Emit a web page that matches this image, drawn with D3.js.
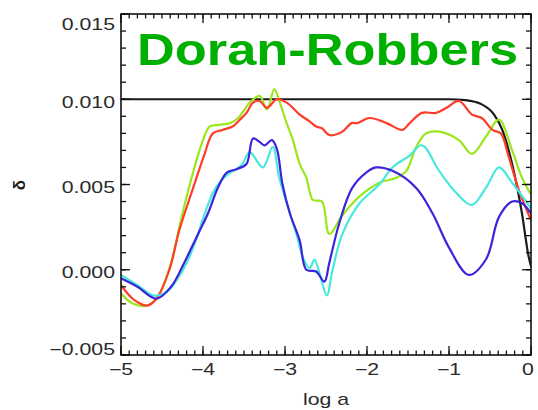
<!DOCTYPE html>
<html><head><meta charset="utf-8">
<script src="https://cdn.jsdelivr.net/npm/d3@7"></script>
<style>html,body{margin:0;padding:0;background:#fff;}svg{display:block;}</style>
</head><body>
<svg id="c" width="538" height="410"></svg>
<script>
// ---- data ----
const title = "Doran-Robbers";
const xLabel = "log a";
const yLabel = "δ";
const xTicks = [-5, -4, -3, -2, -1, 0];
const yTicks = [-0.005, 0.000, 0.005, 0.010, 0.015];
const yTickLabels = ["\u22120.005", "0.000", "0.005", "0.010", "0.015"];
const xTickLabels = ["\u22125", "\u22124", "\u22123", "\u22122", "\u22121", "0"];

const blackX = [-5, -1.0, -0.8, -0.6, -0.45, -0.35, -0.23, -0.11, -0.03, 0];
const blackY = [0.0100, 0.0100, 0.00995, 0.0097, 0.0091, 0.0082, 0.0062, 0.0033, 0.0008, 0.0002];

const greenX = [-5.00,-4.85,-4.68,-4.55,-4.39,-4.27,-4.15,-4.00,-3.92,-3.80,-3.67,-3.57,-3.43,-3.31,-3.22,-3.13,-3.07,-2.98,-2.91,-2.82,-2.74,-2.66,-2.55,-2.46,-2.30,-2.09,-1.85,-1.64,-1.52,-1.40,-1.28,-1.12,-0.88,-0.72,-0.55,-0.39,-0.23,-0.11,0.00];
const greenY = [-0.0014,-0.0020,-0.0021,-0.0016,0.0004,0.0029,0.0052,0.0076,0.0084,0.0085,0.0086,0.0089,0.0098,0.0102,0.0094,0.0106,0.0099,0.0086,0.0077,0.0062,0.0054,0.0041,0.0040,0.0021,0.0032,0.0043,0.0051,0.0054,0.0058,0.0072,0.0080,0.0081,0.0076,0.0068,0.0078,0.0088,0.0070,0.0054,0.0044];

const redX = [-5.00,-4.88,-4.80,-4.68,-4.57,-4.41,-4.29,-4.12,-3.98,-3.88,-3.76,-3.64,-3.55,-3.47,-3.39,-3.31,-3.22,-3.10,-2.98,-2.82,-2.70,-2.62,-2.55,-2.46,-2.30,-2.19,-2.12,-1.97,-1.76,-1.57,-1.48,-1.33,-1.16,-1.03,-0.88,-0.72,-0.60,-0.47,-0.37,-0.27,-0.15,0.00];
const redY = [-0.0009,-0.0016,-0.0019,-0.0021,-0.0017,0.0000,0.0023,0.0048,0.0068,0.0080,0.0082,0.0084,0.0088,0.0092,0.0098,0.0099,0.0095,0.0100,0.0098,0.0091,0.0087,0.0084,0.0083,0.0079,0.0081,0.0086,0.0086,0.0089,0.0086,0.0082,0.0086,0.0092,0.0092,0.0095,0.0099,0.0091,0.0089,0.0082,0.0080,0.0066,0.0047,0.0029];

const cyanX = [-5.00,-4.80,-4.61,-4.44,-4.32,-4.20,-4.08,-4.00,-3.88,-3.80,-3.67,-3.59,-3.52,-3.43,-3.27,-3.15,-3.07,-2.94,-2.86,-2.78,-2.70,-2.64,-2.58,-2.49,-2.42,-2.30,-2.09,-1.85,-1.69,-1.48,-1.33,-1.12,-0.91,-0.72,-0.55,-0.39,-0.23,0.00];
const cyanY = [-0.0003,-0.0009,-0.0015,-0.0013,-0.0006,0.0004,0.0018,0.0030,0.0045,0.0051,0.0057,0.0059,0.0062,0.0069,0.0060,0.0072,0.0054,0.0033,0.0021,0.0007,0.0001,0.0006,-0.0002,-0.0015,0.0000,0.0021,0.0039,0.0050,0.0060,0.0067,0.0073,0.0058,0.0045,0.0038,0.0048,0.0060,0.0051,0.0036];

const blueX = [-5.00,-4.80,-4.57,-4.39,-4.23,-4.06,-3.94,-3.82,-3.71,-3.59,-3.47,-3.39,-3.31,-3.25,-3.16,-3.10,-3.03,-2.94,-2.82,-2.74,-2.62,-2.52,-2.46,-2.34,-2.18,-2.01,-1.89,-1.69,-1.40,-1.20,-1.00,-0.76,-0.55,-0.39,-0.23,-0.11,0.00];
const blueY = [-0.0005,-0.0010,-0.0017,-0.0010,0.0004,0.0021,0.0033,0.0048,0.0057,0.0059,0.0062,0.0077,0.0075,0.0073,0.0076,0.0071,0.0050,0.0033,0.0017,0.0000,-0.0001,-0.0007,0.0004,0.0027,0.0048,0.0057,0.0060,0.0058,0.0048,0.0033,0.0013,-0.0003,0.0006,0.0031,0.0040,0.0039,0.0033];

// ---- layout ----
const L = 121, R = 531, T = 14, B = 355;
const svg = d3.select("#c");
const x = d3.scaleLinear().domain([-5, 0]).range([L, R]);
const y = d3.scaleLinear().domain([-0.005, 0.015]).range([B, T]);

const series = [
  {xs: blackX, ys: blackY, color: "#1a1a1a", curve: d3.curveMonotoneX},
  {xs: greenX, ys: greenY, color: "#9be61e", curve: d3.curveCatmullRom},
  {xs: redX, ys: redY, color: "#ff3c2a", curve: d3.curveCatmullRom},
  {xs: cyanX, ys: cyanY, color: "#48e8dc", curve: d3.curveCatmullRom},
  {xs: blueX, ys: blueY, color: "#3a24dc", curve: d3.curveCatmullRom}
];

const g = svg.append("g");
g.append("defs").append("clipPath").attr("id", "clip")
  .append("rect").attr("x", L).attr("y", T).attr("width", R - L).attr("height", B - T);

series.forEach(s => {
  const pts = s.xs.map((v, i) => [v, s.ys[i]]);
  g.append("path")
    .attr("clip-path", "url(#clip)")
    .attr("d", d3.line().x(d => x(d[0])).y(d => y(d[1])).curve(s.curve)(pts))
    .attr("fill", "none").attr("stroke", s.color).attr("stroke-width", 2.2)
    .attr("stroke-linejoin", "round");
});

// ticks (inward on all four sides), drawn from the scales
const xMinor = d3.range(-50, 1).map(v => v / 10);
const yMinor = d3.range(-5, 16).map(v => v / 1000);
const tg = svg.append("g").attr("stroke", "#111").attr("stroke-width", 1.3);
function xt(vals, len) {
  tg.selectAll(null).data(vals).enter().append("line")
    .attr("x1", d => x(d)).attr("x2", d => x(d)).attr("y1", B).attr("y2", B - len);
  tg.selectAll(null).data(vals).enter().append("line")
    .attr("x1", d => x(d)).attr("x2", d => x(d)).attr("y1", T).attr("y2", T + len);
}
function yt(vals, len) {
  tg.selectAll(null).data(vals).enter().append("line")
    .attr("y1", d => y(d)).attr("y2", d => y(d)).attr("x1", L).attr("x2", L + len);
  tg.selectAll(null).data(vals).enter().append("line")
    .attr("y1", d => y(d)).attr("y2", d => y(d)).attr("x1", R).attr("x2", R - len);
}
xt(xMinor, 4.5); xt(xTicks, 9);
yt(yMinor, 5); yt(yTicks, 9);

svg.append("rect").attr("x", L).attr("y", T).attr("width", R - L).attr("height", B - T)
  .attr("fill", "none").attr("stroke", "#111").attr("stroke-width", 1.6);

const font = "'Liberation Sans', Arial, sans-serif";
const sx = 1.33;
// y tick labels
yTicks.forEach((v, i) => {
  const by = Math.max(30, Math.min(B, y(v) + 8.5));
  svg.append("text").attr("transform", `translate(115,${by}) scale(${sx},1)`)
    .attr("text-anchor", "end").attr("font-family", font).attr("font-size", 16)
    .attr("fill", "#2a2a2a").text(yTickLabels[i]);
});
// x tick labels
xTicks.forEach((v, i) => {
  const cx = Math.min(528, x(v));
  svg.append("text").attr("transform", `translate(${cx},375) scale(${sx},1)`)
    .attr("text-anchor", "middle").attr("font-family", font).attr("font-size", 16)
    .attr("fill", "#2a2a2a").text(xTickLabels[i]);
});
// axis titles
svg.append("text").attr("transform", `translate(${(L + R) / 2},405) scale(${sx},1)`)
  .attr("text-anchor", "middle").attr("font-family", font).attr("font-size", 16)
  .attr("fill", "#2a2a2a").text(xLabel);
svg.append("text").attr("transform", `translate(25,185) rotate(-90)`)
  .attr("text-anchor", "middle").attr("font-family", font).attr("font-size", 17)
  .attr("font-weight", "bold").attr("fill", "#1a1a1a").text(yLabel);

// title
svg.append("text").attr("x", 137).attr("y", 65)
  .attr("font-family", font).attr("font-weight", "bold").attr("font-size", 45)
  .attr("textLength", 381).attr("lengthAdjust", "spacingAndGlyphs")
  .attr("fill", "#00b000").text(title);
</script>
</body></html>
